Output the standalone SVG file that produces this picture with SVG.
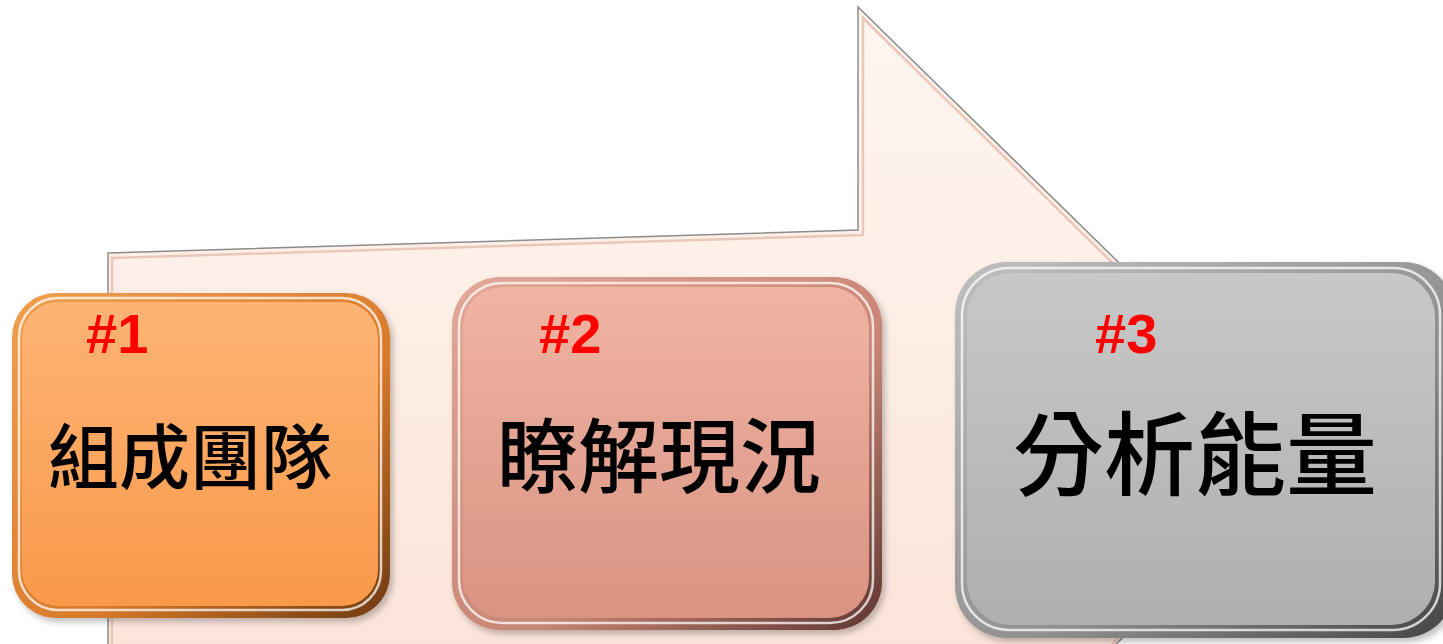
<svg xmlns="http://www.w3.org/2000/svg" width="1443" height="644" viewBox="0 0 1443 644">
  <defs>
    <linearGradient id="arrowFill" x1="0" y1="0" x2="0" y2="1">
      <stop offset="0" stop-color="#fdf6f0"/>
      <stop offset="0.5" stop-color="#fdeee6"/>
      <stop offset="1" stop-color="#fce4da"/>
    </linearGradient>
    <linearGradient id="orangeFill" x1="0" y1="0" x2="0" y2="1">
      <stop offset="0" stop-color="#fdb475"/>
      <stop offset="1" stop-color="#f9994a"/>
    </linearGradient>
    <linearGradient id="orangeRim" x1="0" y1="0" x2="1" y2="1">
      <stop offset="0" stop-color="#f0a050"/>
      <stop offset="0.6" stop-color="#d87a2a"/>
      <stop offset="1" stop-color="#6e3a10"/>
    </linearGradient>
    <linearGradient id="pinkFill" x1="0" y1="0" x2="0" y2="1">
      <stop offset="0" stop-color="#f0b4a2"/>
      <stop offset="1" stop-color="#d99383"/>
    </linearGradient>
    <linearGradient id="pinkRim" x1="0" y1="0" x2="1" y2="1">
      <stop offset="0" stop-color="#e3a898"/>
      <stop offset="0.6" stop-color="#c68474"/>
      <stop offset="1" stop-color="#5e3630"/>
    </linearGradient>
    <linearGradient id="grayFill" x1="0" y1="0" x2="0" y2="1">
      <stop offset="0" stop-color="#c8c8c8"/>
      <stop offset="1" stop-color="#afafaf"/>
    </linearGradient>
    <linearGradient id="grayRim" x1="0" y1="0" x2="1" y2="1">
      <stop offset="0" stop-color="#c0c0c0"/>
      <stop offset="0.6" stop-color="#8e8e8e"/>
      <stop offset="1" stop-color="#444444"/>
    </linearGradient>
    <filter id="shadow" x="-10%" y="-10%" width="120%" height="120%">
      <feDropShadow dx="3" dy="4" stdDeviation="3" flood-color="#000" flood-opacity="0.25"/>
    </filter>
  </defs>
  <style>
    .num { font-family: "Liberation Sans", "Noto Sans", sans-serif; font-weight: bold; font-size: 56px; fill: #ff0000; }
    .lbl { font-family: "Noto Sans CJK TC", "Noto Sans CJK SC", sans-serif; font-weight: 500; fill: #000000; text-anchor: middle; }
    .hl { fill: none; stroke: #ffffff; stroke-opacity: 0.75; stroke-width: 2.5; }
  </style>
  <rect width="1443" height="644" fill="#ffffff"/>

  <g id="connectors">
    <path d="M108,253 L858,230 L858,7 L1312,452 L1104,656 L108,656 Z" fill="url(#arrowFill)" stroke="#8c8c8c" stroke-width="1.5"/>
    <path d="M112,258 L863,235 L863,18 L1305,452 L1100,656 L112,656 Z" fill="none" stroke="#ecc6b8" stroke-width="2.5"/>
  </g>

  <g id="node1">
    <rect x="12" y="293" width="378" height="325" rx="44" fill="url(#orangeRim)" filter="url(#shadow)"/>
    <rect x="22" y="302" width="356" height="304" rx="36" fill="url(#orangeFill)"/>
    <rect x="19" y="298" width="362" height="312" rx="39" class="hl"/>
    <text x="86" y="353" class="num">#1</text>
    <text x="190" y="483" class="lbl" font-size="71">組成團隊</text>
  </g>

  <g id="node2">
    <rect x="452" y="277" width="430" height="353" rx="48" fill="url(#pinkRim)" filter="url(#shadow)"/>
    <rect x="463" y="287" width="406" height="331" rx="40" fill="url(#pinkFill)"/>
    <rect x="459" y="283" width="414" height="340" rx="43" class="hl"/>
    <text x="539" y="353" class="num">#2</text>
    <text x="659" y="486" class="lbl" font-size="81">瞭解現況</text>
  </g>

  <g id="node3">
    <rect x="955" y="262" width="500" height="376" rx="52" fill="url(#grayRim)" filter="url(#shadow)"/>
    <rect x="967" y="273" width="468" height="352" rx="44" fill="url(#grayFill)"/>
    <rect x="962" y="268" width="478" height="362" rx="47" class="hl"/>
    <text x="1095" y="353" class="num">#3</text>
    <text x="1195" y="488" class="lbl" font-size="91">分析能量</text>
  </g>
</svg>
